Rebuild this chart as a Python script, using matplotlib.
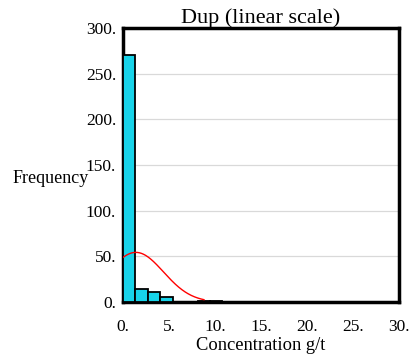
import numpy as np
import matplotlib
matplotlib.use("Agg")
import matplotlib.pyplot as plt
from matplotlib.ticker import FixedLocator, FuncFormatter

# Histogram of duplicate assays (g/t), linear scale
bin_width = 1.35
bin_counts = [270, 14, 11, 6, 0, 0, 1, 1]
bin_starts = [i * bin_width for i in range(len(bin_counts))]

# Fitted normal curve parameters
fit_mean = 1.4
fit_sd = 3.0
fit_total = sum(bin_counts)

x_ticks = [0, 5, 10, 15, 20, 25, 30]
y_ticks = [0, 50, 100, 150, 200, 250, 300]

serif = ["Liberation Serif", "DejaVu Serif"]
plt.rcParams["font.family"] = serif

fig = plt.figure(figsize=(4.14, 3.60), dpi=100)
ax = fig.add_axes([0.297, 0.161, 0.667, 0.761])

ax.bar(bin_starts, bin_counts, width=bin_width, align="edge",
       color="#17d3e9", edgecolor="black", linewidth=1.3, zorder=3)

xs = np.linspace(0, 8.8, 200)
ys = fit_total * bin_width / (fit_sd * np.sqrt(2 * np.pi)) * np.exp(-0.5 * ((xs - fit_mean) / fit_sd) ** 2)
ax.plot(xs, ys, color="red", linewidth=1.0, zorder=4)

ax.set_xlim(0, 30)
ax.set_ylim(0, 300)
ax.xaxis.set_major_locator(FixedLocator(x_ticks))
ax.yaxis.set_major_locator(FixedLocator(y_ticks))
fmt = FuncFormatter(lambda v, p: f"{int(v)}.")
ax.xaxis.set_major_formatter(fmt)
ax.yaxis.set_major_formatter(fmt)
ax.tick_params(length=0, labelsize=12.5, colors="black")
ax.tick_params(axis="x", pad=12)
ax.tick_params(axis="y", pad=5)
ax.grid(axis="y", color="#d9d9d9", linewidth=0.9, zorder=0)
ax.set_axisbelow(True)

for s in ax.spines.values():
    s.set_linewidth(2.5)
    s.set_color("black")

ax.set_title("Dup (linear scale)", fontsize=16, pad=4)
ax.set_xlabel("Concentration g/t", fontsize=13.3, labelpad=2)
fig.text(0.03, 0.505, "Frequency", fontsize=13, ha="left", va="center")

fig.savefig("out.png", dpi=100, facecolor="white")
